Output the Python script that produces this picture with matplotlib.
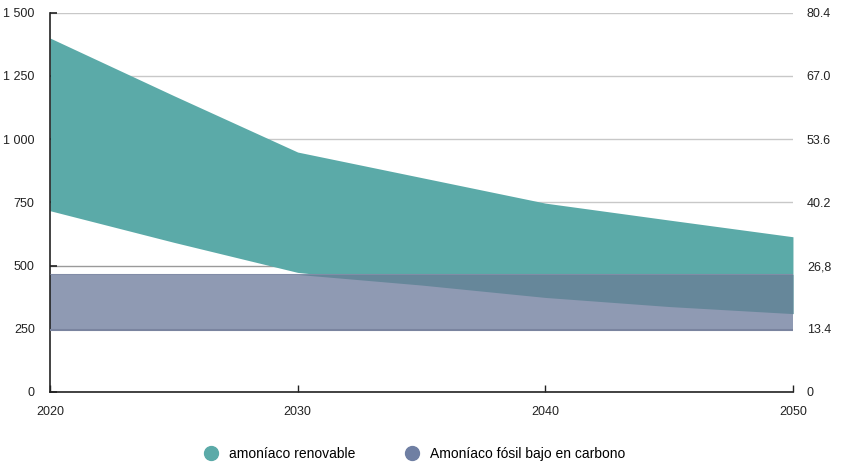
import numpy as np
import matplotlib.pyplot as plt
from matplotlib.lines import Line2D

plt.rcParams['font.family'] = ['Liberation Sans', 'DejaVu Sans']

# años y rangos de coste (eje izquierdo)
anios = [2020, 2025, 2030, 2035, 2040, 2045, 2050]
renovable_alto = [1400, 1172, 949, 848, 747, 680, 614]
renovable_bajo = [717, 592, 473, 423, 374, 338, 310]
fosil_bajo = [245, 245, 245, 245, 245, 245, 245]
fosil_alto = [465, 465, 465, 465, 465, 465, 465]

ticks_izq = [0, 250, 500, 750, 1000, 1250, 1500]
etiquetas_izq = ["0", "250", "500", "750", "1 000", "1 250", "1 500"]
etiquetas_der = ["0", "13.4", "26,8", "40.2", "53.6", "67.0", "80.4"]
ticks_x = [2020, 2030, 2040, 2050]

serie_nombres = ["amoníaco renovable", "Amoníaco fósil bajo en carbono"]

c_teal = "#5baaa8"
c_fosil = "#8f9ab3"
c_solape = "#66879a"
c_borde = "#7a849f"

fig = plt.figure(figsize=(8.5, 4.66), dpi=100)
ax = fig.add_axes([0.0588, 0.1588, 0.8741, 0.8139])

x = np.array(anios)
ra = np.array(renovable_alto)
rb = np.array(renovable_bajo)
fb = np.array(fosil_bajo)
fa = np.array(fosil_alto)

ax.fill_between(x, rb, ra, color=c_teal, lw=0, zorder=2)
ax.fill_between(x, fb, fa, color=c_fosil, lw=0, zorder=2)
# zona donde se solapan ambos rangos
ax.fill_between(x, np.minimum(rb, fa), np.minimum(ra, fa), color=c_solape, lw=0, zorder=3)
ax.plot(x, fb, color=c_borde, lw=1.5, zorder=4)
ax.plot(x, fa, color=c_borde, lw=0.8, alpha=0.6, zorder=4)

ax.set_xlim(2020, 2050)
ax.set_ylim(0, 1500)
ax.set_yticks(ticks_izq)
ax.set_yticklabels(etiquetas_izq)
ax.set_xticks(ticks_x)
ax.set_xticklabels([str(t) for t in ticks_x])

ax.grid(axis='y', color='#c8c8c8', lw=1, zorder=1)
ax.set_axisbelow(True)
ax.get_ygridlines()[2].set_color('#9a9a9a')

for s in ['top', 'right']:
    ax.spines[s].set_visible(False)
ax.spines['left'].set_color('#222222')
ax.spines['bottom'].set_color('#222222')
ax.spines['left'].set_linewidth(1.2)
ax.spines['bottom'].set_linewidth(1.2)

ax.tick_params(axis='y', direction='in', length=5, width=1.2, color='#222222',
               labelsize=9, pad=11, labelcolor='#222222')
ax.tick_params(axis='x', direction='in', length=5, width=1, color='#222222',
               labelsize=9, pad=10, labelcolor='#222222')

ax2 = ax.twinx()
ax2.set_ylim(0, 1500)
ax2.set_yticks(ticks_izq)
ax2.set_yticklabels(etiquetas_der)
ax2.tick_params(axis='y', length=0, labelsize=9, pad=10, labelcolor='#222222')
for s in ax2.spines.values():
    s.set_visible(False)

handles = [Line2D([], [], marker='o', ls='', markersize=10, color=c_teal),
           Line2D([], [], marker='o', ls='', markersize=10, color='#6f7fa3')]
fig.legend(handles, serie_nombres, loc='center', bbox_to_anchor=(0.484, 0.025),
           ncol=2, frameon=False, fontsize=10, handletextpad=0.3, columnspacing=3.1)

fig.savefig("out.png", dpi=100)
